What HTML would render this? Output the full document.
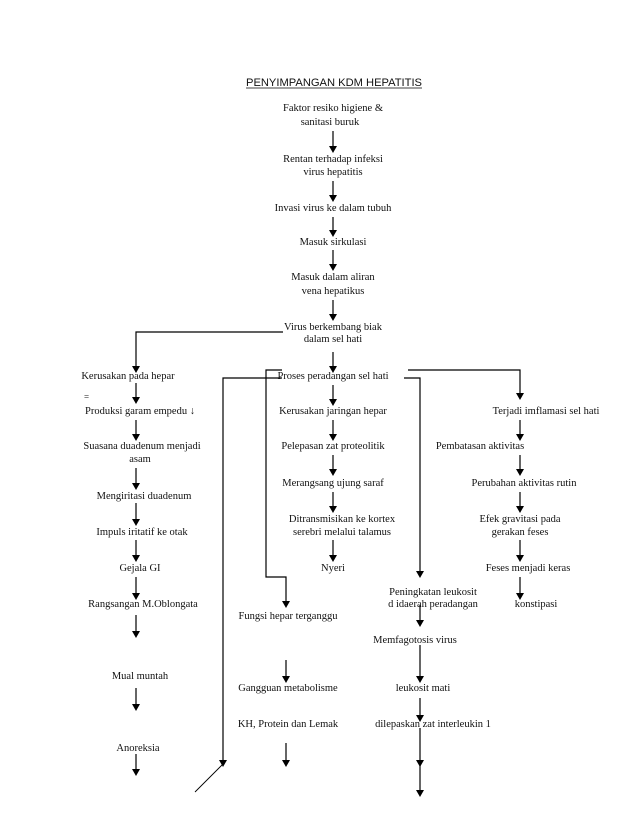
<!DOCTYPE html>
<html><head><meta charset="utf-8"><style>
html,body{margin:0;padding:0;background:#fff;}
svg{display:block;}
text{font-family:"Liberation Serif",serif;font-size:10.5px;fill:#111;}
.t{font-family:"Liberation Sans",sans-serif;font-size:11px;}
</style></head><body>
<svg width="638" height="826" viewBox="0 0 638 826" xmlns="http://www.w3.org/2000/svg">
<defs><marker id="a" markerWidth="8" markerHeight="8" refX="4" refY="7" orient="auto" markerUnits="userSpaceOnUse"><path d="M0,0 L8,0 L4,8 z" fill="#000" transform="rotate(-90 4 4) rotate(90 4 4)"/></marker></defs>
<g stroke="#000" stroke-width="1.3" fill="none">
<!-- helper: arrows as line + triangle -->
</g>
<text class="t" x="246" y="86" textLength="176" lengthAdjust="spacingAndGlyphs">PENYIMPANGAN KDM HEPATITIS</text>
<line x1="246" y1="88" x2="422" y2="88" stroke="#000" stroke-width="0.8"/>
<g text-anchor="middle">
<text x="333" y="111">Faktor resiko higiene &amp;</text>
<text x="330" y="125">sanitasi buruk</text>
<text x="333" y="162">Rentan terhadap infeksi</text>
<text x="333" y="175">virus hepatitis</text>
<text x="333" y="211">Invasi virus ke dalam tubuh</text>
<text x="333" y="245">Masuk sirkulasi</text>
<text x="333" y="280">Masuk dalam aliran</text>
<text x="333" y="294">vena hepatikus</text>
<text x="333" y="330">Virus berkembang biak</text>
<text x="333" y="342">dalam sel hati</text>
<text x="333" y="379">Proses peradangan sel hati</text>
<text x="333" y="414">Kerusakan jaringan hepar</text>
<text x="333" y="449">Pelepasan zat proteolitik</text>
<text x="333" y="486">Merangsang ujung saraf</text>
<text x="342" y="522">Ditransmisikan ke kortex</text>
<text x="342" y="535">serebri melalui talamus</text>
<text x="333" y="571">Nyeri</text>

<text x="128" y="379">Kerusakan pada hepar</text>
<text x="140" y="414">Produksi garam empedu ↓</text>
<text x="142" y="449">Suasana duadenum menjadi</text>
<text x="140" y="462">asam</text>
<text x="144" y="499">Mengiritasi duadenum</text>
<text x="142" y="535">Impuls iritatif ke otak</text>
<text x="140" y="571">Gejala GI</text>
<text x="143" y="607">Rangsangan M.Oblongata</text>
<text x="140" y="679">Mual muntah</text>
<text x="138" y="751">Anoreksia</text>

<text x="288" y="619">Fungsi hepar terganggu</text>
<text x="288" y="691">Gangguan metabolisme</text>
<text x="288" y="727">KH, Protein dan Lemak</text>

<text x="433" y="595">Peningkatan leukosit</text>
<text x="433" y="607">d idaerah peradangan</text>
<text x="415" y="643">Memfagotosis virus</text>
<text x="423" y="691">leukosit mati</text>
<text x="433" y="727">dilepaskan zat interleukin 1</text>

<text x="546" y="414">Terjadi imflamasi sel hati</text>
<text x="480" y="449">Pembatasan aktivitas</text>
<text x="524" y="486">Perubahan aktivitas rutin</text>
<text x="520" y="522">Efek gravitasi pada</text>
<text x="520" y="535">gerakan feses</text>
<text x="528" y="571">Feses menjadi keras</text>
<text x="536" y="607">konstipasi</text>
</g>
<text x="84" y="400" style="font-size:9px">=</text>

<g stroke="#000" stroke-width="1.2" fill="none">
<!-- center arrows -->
<path d="M333 131V146 M333 181V195 M333 217V230 M333 250V264 M333 300V314 M333 352V366 M333 385V399 M333 420V434 M333 455V469 M333 492V506 M333 540V555"/>
<!-- left arrows -->
<path d="M136 383V397 M136 420V434 M136 468V483 M136 503V519 M136 540V555 M136 577V593 M136 615V631 M136 688V704 M136 754V769"/>
<!-- middle-left -->
<path d="M286 660V676 M286 743V760"/>
<!-- right-middle -->
<path d="M420 605V620 M420 645V676 M420 698V715 M420 728V760 M420 765V790"/>
<!-- right column -->
<path d="M520 420V434 M520 455V469 M520 492V506 M520 540V555 M520 577V593"/>
<!-- connectors -->
<path d="M283 332H136V366"/>
<path d="M282 370H266V577H286V601"/>
<path d="M282 378H223V760"/>
<path d="M223 764L195 792" stroke-width="0.9"/>
<path d="M404 378H420V571"/>
<path d="M408 370H520V393"/>
</g>
<g fill="#000">
<path d="M329 146h8l-4 7z M329 195h8l-4 7z M329 230h8l-4 7z M329 264h8l-4 7z M329 314h8l-4 7z M329 366h8l-4 7z M329 399h8l-4 7z M329 434h8l-4 7z M329 469h8l-4 7z M329 506h8l-4 7z M329 555h8l-4 7z"/>
<path d="M132 366h8l-4 7z M132 397h8l-4 7z M132 434h8l-4 7z M132 483h8l-4 7z M132 519h8l-4 7z M132 555h8l-4 7z M132 593h8l-4 7z M132 631h8l-4 7z M132 704h8l-4 7z M132 769h8l-4 7z"/>
<path d="M282 601h8l-4 7z M282 676h8l-4 7z M282 760h8l-4 7z"/>
<path d="M416 571h8l-4 7z M416 620h8l-4 7z M416 676h8l-4 7z M416 715h8l-4 7z M416 760h8l-4 7z M416 790h8l-4 7z"/>
<path d="M219 760h8l-4 7z"/>
<path d="M516 393h8l-4 7z M516 434h8l-4 7z M516 469h8l-4 7z M516 506h8l-4 7z M516 555h8l-4 7z M516 593h8l-4 7z"/>
</g>
</svg>
</body></html>
